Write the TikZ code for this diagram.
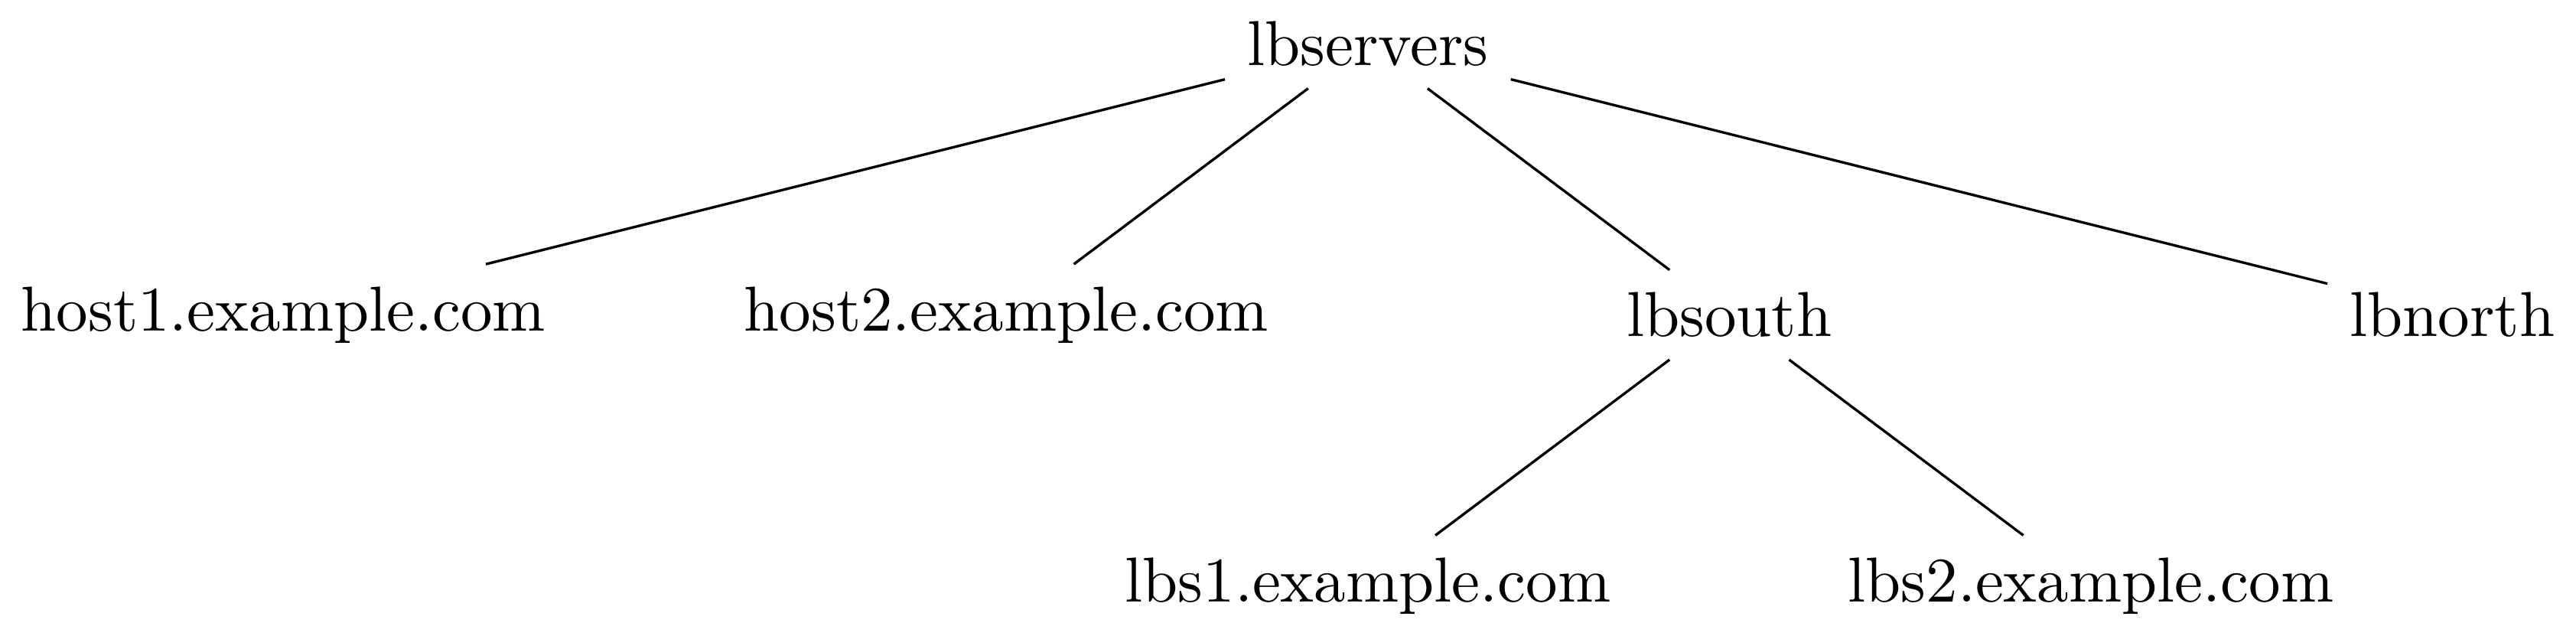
\documentclass[tikz,border=0pt]{standalone}
\begin{document}
\begin{tikzpicture}[treenode/.style={anchor=center}]
\node[treenode] (root) at (0,0) {lbservers};
\node[treenode] (h1) at (-60mm,-15mm) {host1.example.com};
\node[treenode] (h2) at (-20mm,-15mm) {host2.example.com};
\node[treenode] (south) at (20mm,-15mm) {lbsouth};
\node[treenode] (north) at (60mm,-15mm) {lbnorth};
\node[treenode] (s1) at (0mm,-30mm) {lbs1.example.com};
\node[treenode] (s2) at (40mm,-30mm) {lbs2.example.com};
\draw (root) -- (h1);
\draw (root) -- (h2);
\draw (root) -- (south);
\draw (root) -- (north);
\draw (south) -- (s1);
\draw (south) -- (s2);
\end{tikzpicture}
\end{document}
